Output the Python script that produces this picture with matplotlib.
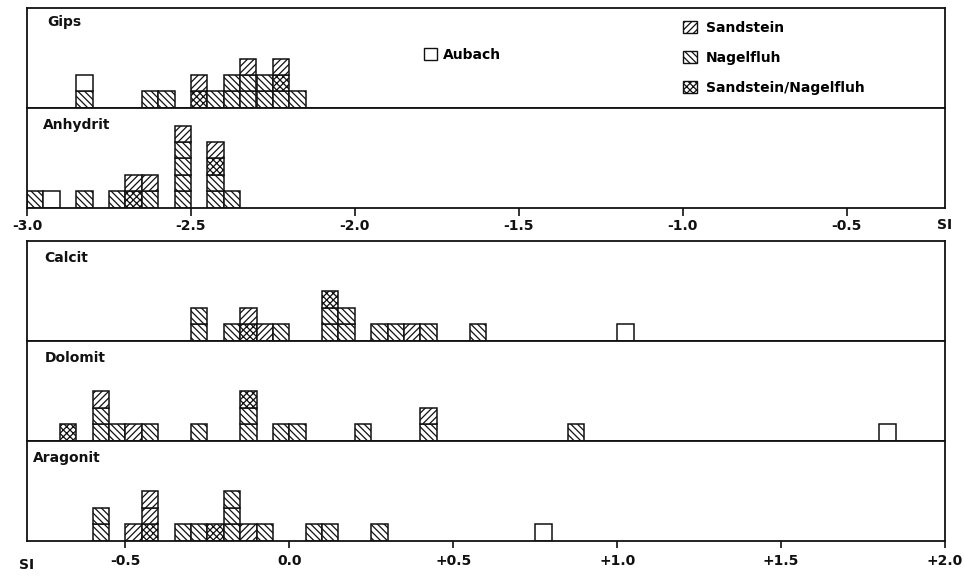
import numpy as np
import matplotlib
matplotlib.use('Agg')
import matplotlib.pyplot as plt
from matplotlib.patches import Patch

# width of one SI class
bin_w = 0.05

# codes: S = Sandstein, N = Nagelfluh, X = Sandstein/Nagelfluh, A = Aubach
# left edge of each class and the stacked samples (bottom -> top)
gips_bins = [-2.85, -2.65, -2.60, -2.50, -2.45, -2.40, -2.35, -2.30, -2.25, -2.20]
gips_stacks = ['NA', 'N', 'N', 'XS', 'N', 'NN', 'NNS', 'NN', 'NXS', 'N']

anhydrit_bins = [-3.00, -2.95, -2.85, -2.75, -2.70, -2.65, -2.55, -2.45, -2.40]
anhydrit_stacks = ['N', 'A', 'N', 'N', 'XS', 'NS', 'NNNNS', 'NNXS', 'N']

calcit_bins = [-0.30, -0.20, -0.15, -0.10, -0.05, 0.10, 0.15, 0.25, 0.30, 0.35, 0.40, 0.55, 1.00]
calcit_stacks = ['NN', 'N', 'XS', 'S', 'N', 'NNX', 'NN', 'N', 'N', 'S', 'N', 'N', 'A']

dolomit_bins = [-0.70, -0.60, -0.55, -0.50, -0.45, -0.30, -0.15, -0.05, 0.00, 0.20, 0.40, 0.85, 1.80]
dolomit_stacks = ['X', 'NNS', 'N', 'S', 'N', 'N', 'NNX', 'N', 'N', 'N', 'NS', 'N', 'A']

aragonit_bins = [-0.60, -0.50, -0.45, -0.35, -0.30, -0.25, -0.20, -0.15, -0.10, 0.05, 0.10, 0.25, 0.75]
aragonit_stacks = ['NN', 'S', 'XSS', 'N', 'N', 'X', 'NNN', 'S', 'N', 'N', 'N', 'N', 'A']

top_ticks = [-3.0, -2.5, -2.0, -1.5, -1.0, -0.5]
top_labels = ['-3.0', '-2.5', '-2.0', '-1.5', '-1.0', '-0.5']
bot_ticks = [-0.5, 0.0, 0.5, 1.0, 1.5, 2.0]
bot_labels = ['-0.5', '0.0', '+0.5', '+1.0', '+1.5', '+2.0']

hatch_map = {'S': '/////', 'N': '\\\\\\\\\\', 'X': 'xxxxx', 'A': ''}

plt.rcParams['font.family'] = 'DejaVu Sans'
plt.rcParams['font.weight'] = 'bold'
plt.rcParams['hatch.linewidth'] = 0.9
ink = '#111111'

fig = plt.figure(figsize=(9.65, 5.77), dpi=100)
W, H = 965.0, 577.0


def make_ax(top_px, bot_px):
    ax = fig.add_axes([27 / W, 1 - bot_px / H, 918 / W, (bot_px - top_px) / H])
    for s in ax.spines.values():
        s.set_linewidth(1.3)
        s.set_color(ink)
    ax.set_yticks([])
    ax.set_ylim(0, 6.1)
    return ax


def draw_panel(ax, bins, stacks, name, xlim, lx, ly):
    for x0, st in zip(bins, stacks):
        for k, code in enumerate(st):
            ax.bar(x0, 1, width=bin_w, bottom=k, align='edge', color='white',
                   edgecolor=ink, hatch=hatch_map[code], linewidth=1.1)
    ax.set_xlim(xlim)
    ax.text(lx, ly, name, transform=ax.transAxes, ha='left', va='center',
            fontsize=10, fontweight='bold', color=ink)


ax_g = make_ax(8, 107.5)
ax_a = make_ax(107.5, 207.5)
ax_c = make_ax(240.5, 340.5)
ax_d = make_ax(340.5, 440.5)
ax_r = make_ax(440.5, 540.5)

draw_panel(ax_g, gips_bins, gips_stacks, 'Gips', (-3.0, -0.2), 0.022, 0.86)
draw_panel(ax_a, anhydrit_bins, anhydrit_stacks, 'Anhydrit', (-3.0, -0.2), 0.017, 0.825)
draw_panel(ax_c, calcit_bins, calcit_stacks, 'Calcit', (-0.8, 2.0), 0.019, 0.825)
draw_panel(ax_d, dolomit_bins, dolomit_stacks, 'Dolomit', (-0.8, 2.0), 0.019, 0.825)
draw_panel(ax_r, aragonit_bins, aragonit_stacks, 'Aragonit', (-0.8, 2.0), 0.007, 0.825)

for ax in (ax_g, ax_c, ax_d):
    ax.set_xticks([])

ax_a.set_xticks(top_ticks)
ax_a.set_xticklabels(top_labels)
ax_a.tick_params(axis='x', direction='out', length=6, width=1.2, pad=2,
                 labelsize=10, colors=ink)
ax_a.text(1.0, -0.17, 'SI', transform=ax_a.transAxes, ha='center', va='center',
          fontsize=10, fontweight='bold', color=ink)

ax_r.set_xticks(bot_ticks)
ax_r.set_xticklabels(bot_labels)
ax_r.tick_params(axis='x', direction='out', length=5, width=1.2, pad=5,
                 labelsize=10, colors=ink)
ax_r.text(0.0, -0.245, 'SI', transform=ax_r.transAxes, ha='center', va='center',
          fontsize=10, fontweight='bold', color=ink)

# legends
kinds = [('S', 'Sandstein'), ('N', 'Nagelfluh'), ('X', 'Sandstein/Nagelfluh')]
handles = [Patch(facecolor='white', edgecolor=ink, hatch=hatch_map[c], label=l) for c, l in kinds]
leg = ax_g.legend(handles=handles, loc='upper left', bbox_to_anchor=(0.715, 0.87),
                  frameon=False, fontsize=10, handlelength=1.0, handleheight=1.0,
                  labelspacing=1.15, handletextpad=0.6, borderpad=0, borderaxespad=0)
ax_g.add_artist(leg)
aub = [Patch(facecolor='white', edgecolor=ink, label='Aubach')]
ax_g.legend(handles=aub, loc='upper left', bbox_to_anchor=(0.432, 0.60),
            frameon=False, fontsize=10, handlelength=1.0, handleheight=1.0,
            handletextpad=0.4, borderpad=0, borderaxespad=0)

fig.savefig('out.png', dpi=100)
